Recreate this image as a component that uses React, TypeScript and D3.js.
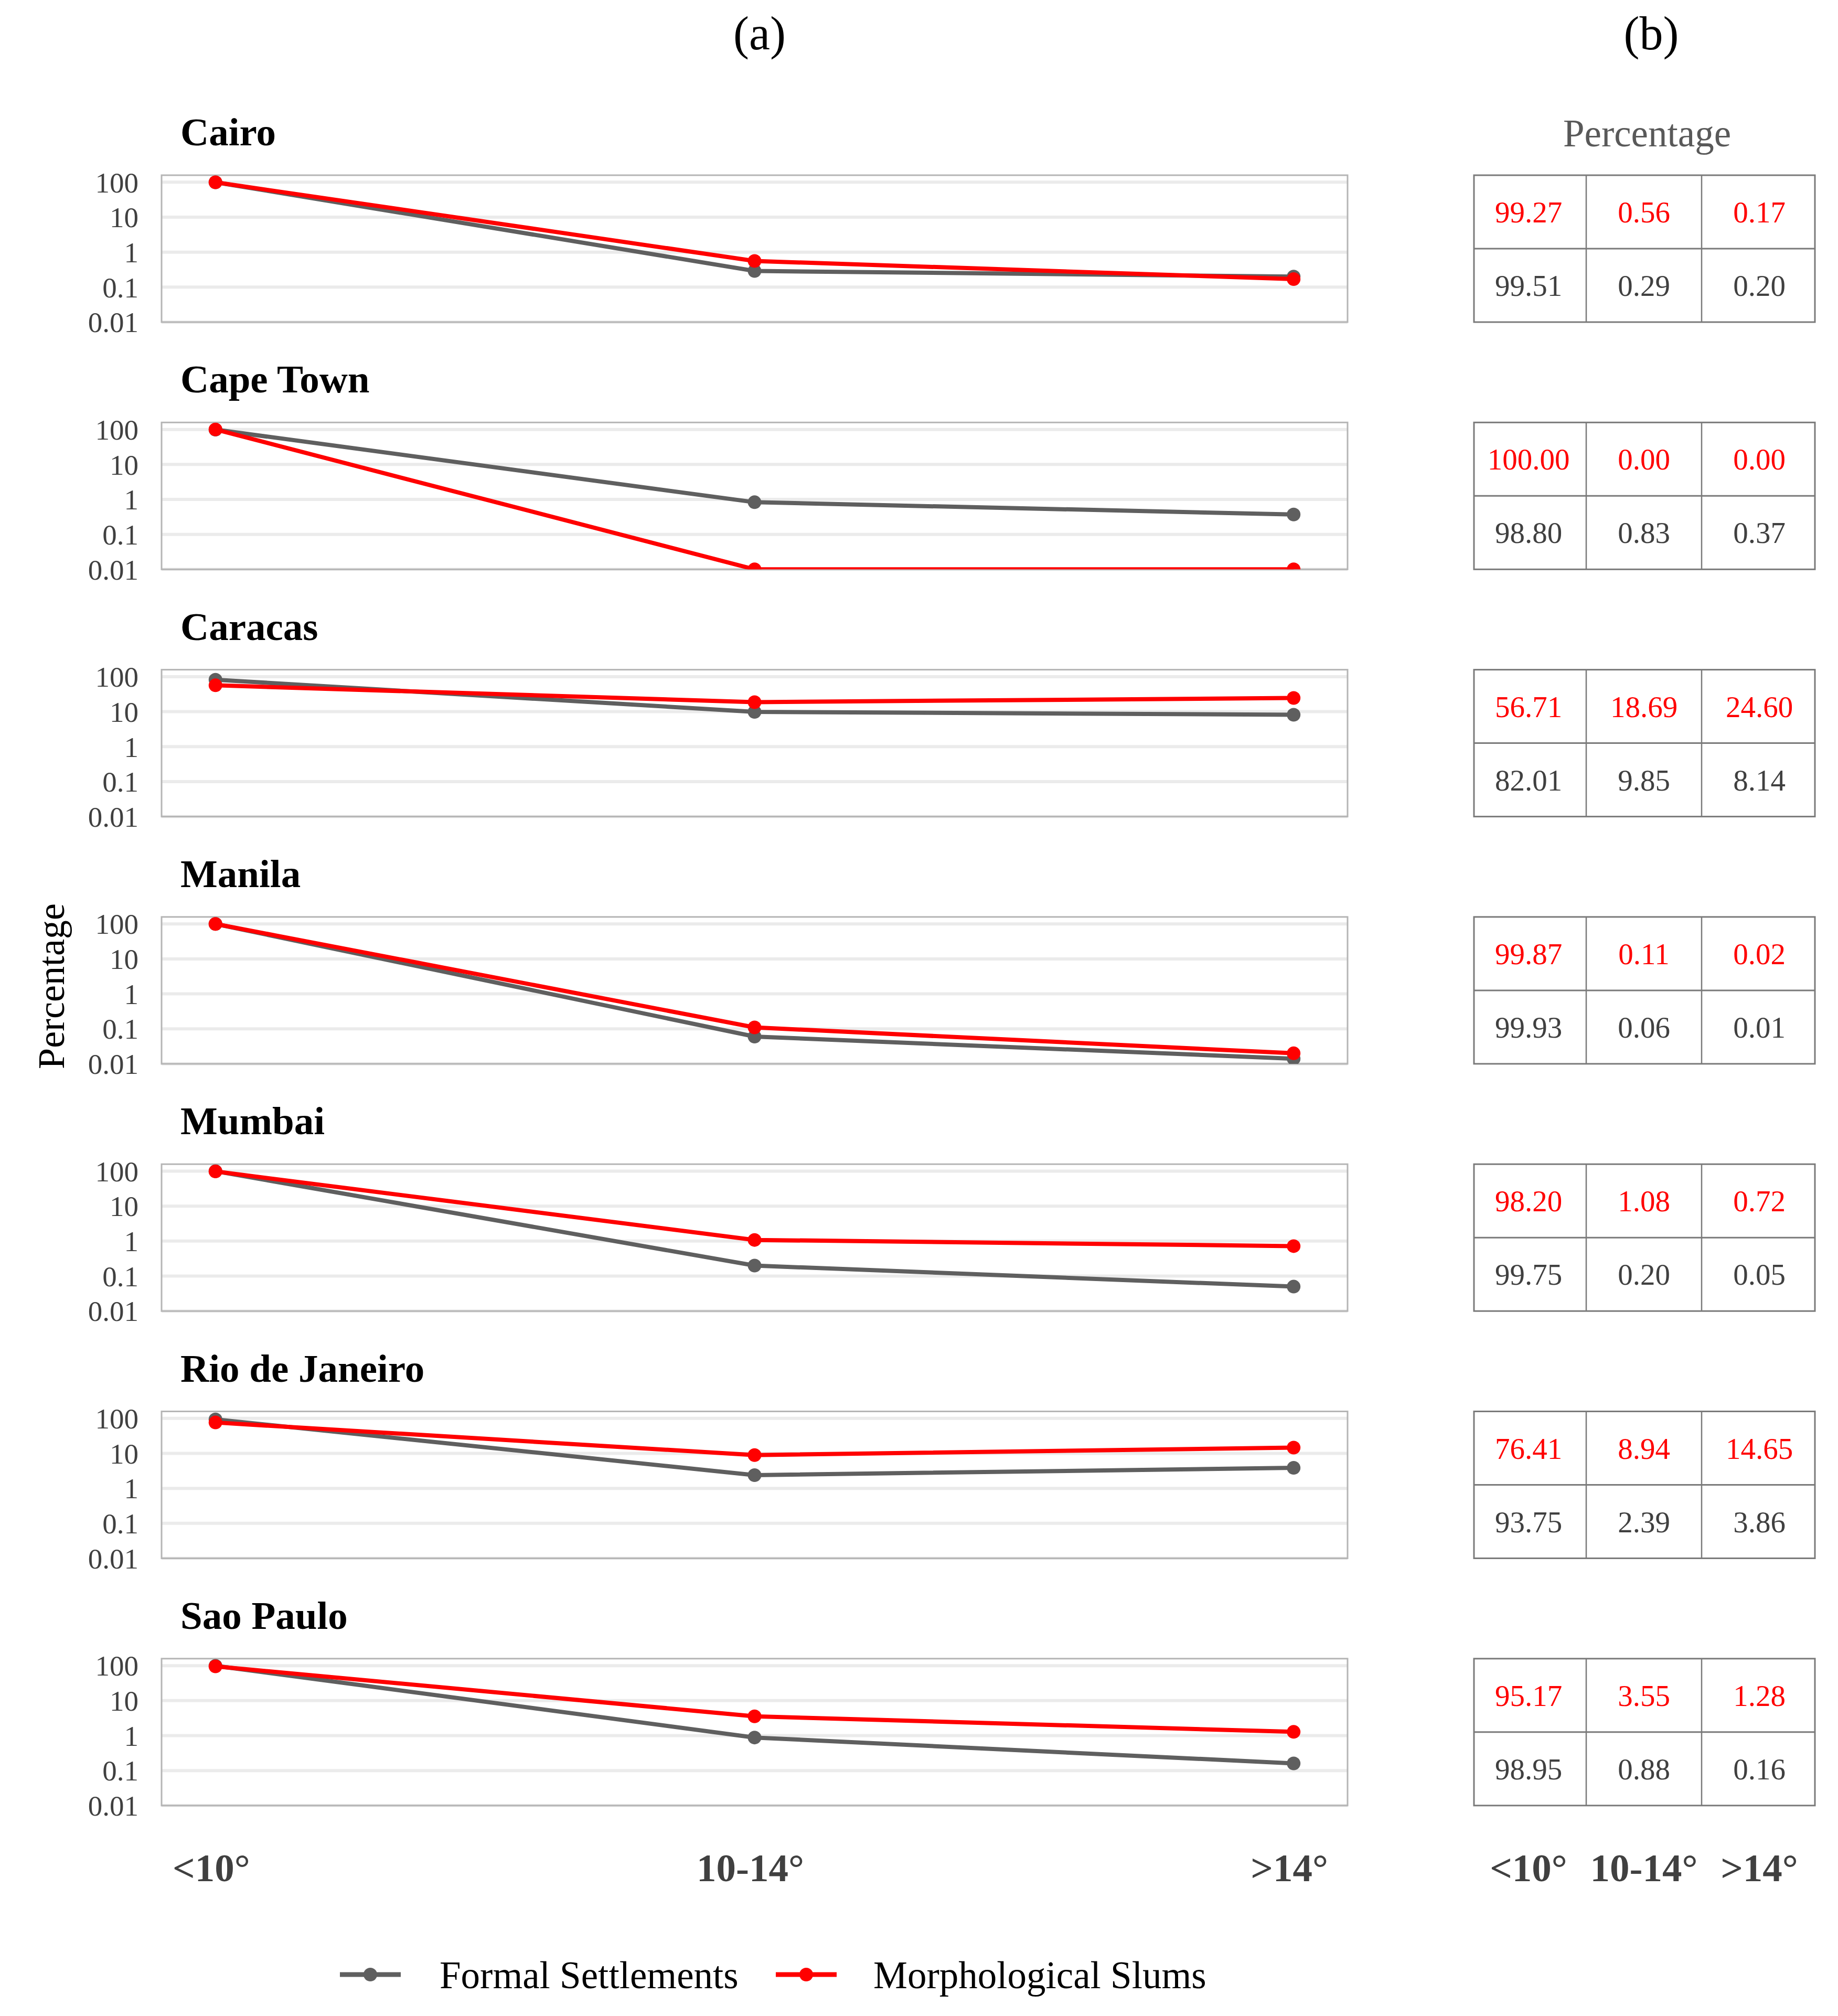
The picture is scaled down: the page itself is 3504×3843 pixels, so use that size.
import React from 'react';
import * as d3 from 'd3';

const cities = ['Cairo', 'Cape Town', 'Caracas', 'Manila', 'Mumbai', 'Rio de Janeiro', 'Sao Paulo'];
const slopeClasses = ['<10°', '10-14°', '>14°'];

// percentages per city, slope classes in order
const formalSettlements = [
    [99.51, 0.29, 0.20],
    [98.80, 0.83, 0.37],
    [82.01, 9.85, 8.14],
    [99.93, 0.06, 0.014],
    [99.75, 0.20, 0.05],
    [93.75, 2.39, 3.86],
    [98.95, 0.88, 0.16],
];
const morphologicalSlums = [
    [99.27, 0.56, 0.17],
    [100.00, 0.00, 0.00],
    [56.71, 18.69, 24.60],
    [99.87, 0.11, 0.02],
    [98.20, 1.08, 0.72],
    [76.41, 8.94, 14.65],
    [95.17, 3.55, 1.28],
];
const yTicks = [100, 10, 1, 0.1, 0.01];
const yTickLabels = ['100', '10', '1', '0.1', '0.01'];

const FONT = '"Liberation Serif", "Times New Roman", serif';
const GRAY = '#5f5f5f';
const RED = '#ff0000';

const width = 3504;
const height = 3843;
const plotLeft = 308;
const plotRight = 2569;
const firstTop = 334;
const panelStep = 471.3;
const panelHeight = 280;
const tableLeft = 2810;
const tableRight = 3460;

const App: React.FC = () => {
    const x = d3.scalePoint<string>().domain(slopeClasses).range([plotLeft, plotRight]).padding(0.1);
    const col = d3.scaleBand<string>().domain(slopeClasses).range([tableLeft - 6, tableRight + 4]);
    const minY = 0.01;

    const series = [
        { name: 'Formal Settlements', color: GRAY, values: formalSettlements },
        { name: 'Morphological Slums', color: RED, values: morphologicalSlums },
    ];

    return (
        <svg width={width} height={height} style={{ position: 'absolute', left: 0, top: 0, background: '#fff' }}
            fontFamily={FONT}>
            <text x={1448} y={94} fontSize={90} textAnchor="middle" fill="#000">(a)</text>
            <text x={3148} y={94} fontSize={90} textAnchor="middle" fill="#000">(b)</text>
            <text x={3140} y={279} fontSize={73} textAnchor="middle" fill="#595959">Percentage</text>
            <text transform={`translate(122, 1880) rotate(-90)`} fontSize={72} textAnchor="middle" fill="#000">Percentage</text>

            {cities.map((city, i) => {
                const top = firstTop + i * panelStep;
                const bottom = top + panelHeight;
                const y = d3.scaleLog().domain([minY, Math.pow(10, 2.2)]).range([bottom, top]);
                const line = d3.line<number>()
                    .x((_, j) => x(slopeClasses[j]) as number)
                    .y(v => y(Math.max(v, minY)));
                const clipId = `clip-${i}`;
                return (
                    <g key={city}>
                        <defs>
                            <clipPath id={clipId}>
                                <rect x={plotLeft} y={top} width={plotRight - plotLeft} height={panelHeight} />
                            </clipPath>
                        </defs>
                        <text x={344} y={top - 57} fontSize={75} fontWeight="bold" fill="#000">{city}</text>
                        {yTicks.map((t, k) => (
                            <g key={t}>
                                <line x1={plotLeft} x2={plotRight} y1={y(t)} y2={y(t)} stroke="#ebebeb" strokeWidth={6} />
                                <text x={264} y={y(t)} dy="0.35em" fontSize={55} textAnchor="end" fill="#404040">{yTickLabels[k]}</text>
                            </g>
                        ))}
                        <rect x={plotLeft} y={top} width={plotRight - plotLeft} height={panelHeight}
                            fill="none" stroke="#b5b5b5" strokeWidth={3} />
                        <g clipPath={`url(#${clipId})`}>
                            {series.map(s => (
                                <g key={s.name}>
                                    <path d={line(s.values[i]) || ''} fill="none" stroke={s.color} strokeWidth={8} />
                                    {s.values[i].map((v, j) => (
                                        <circle key={j} cx={x(slopeClasses[j])} cy={y(Math.max(v, minY))} r={13} fill={s.color} />
                                    ))}
                                </g>
                            ))}
                        </g>

                        {/* table (b) */}
                        {[morphologicalSlums, formalSettlements].map((vals, r) => {
                            const rowTop = top + r * (panelHeight / 2);
                            return slopeClasses.map((c, j) => (
                                <text key={`${r}-${c}`} x={(col(c) as number) + col.bandwidth() / 2}
                                    y={rowTop + panelHeight / 4 + 20} fontSize={57} textAnchor="middle"
                                    fill={r === 0 ? RED : '#404040'}>
                                    {vals[i][j].toFixed(2)}
                                </text>
                            ));
                        })}
                        <line x1={tableLeft} x2={tableRight} y1={top + panelHeight / 2} y2={top + panelHeight / 2}
                            stroke="#7a7a7a" strokeWidth={3} />
                        {slopeClasses.slice(1).map(c => (
                            <line key={c} x1={col(c)} x2={col(c)} y1={top} y2={bottom} stroke="#7a7a7a" strokeWidth={2.5} />
                        ))}
                        <rect x={tableLeft} y={top} width={tableRight - tableLeft} height={panelHeight}
                            fill="none" stroke="#7a7a7a" strokeWidth={3} />
                    </g>
                );
            })}

            {slopeClasses.map(c => (
                <g key={c}>
                    <text x={(x(c) as number) - 8} y={3586} fontSize={75} fontWeight="bold" textAnchor="middle" fill="#404040">{c}</text>
                    <text x={(col(c) as number) + col.bandwidth() / 2} y={3586} fontSize={75} fontWeight="bold" textAnchor="middle" fill="#404040">{c}</text>
                </g>
            ))}

            {/* legend */}
            {series.map((s, k) => {
                const lx = k === 0 ? 648 : 1479;
                const tx = k === 0 ? 838 : 1665;
                return (
                    <g key={s.name}>
                        <line x1={lx} x2={lx + 116} y1={3764} y2={3764} stroke={s.color} strokeWidth={9} />
                        <circle cx={lx + 58} cy={3764} r={13} fill={s.color} />
                        <text x={tx} y={3790} fontSize={73} fill="#000">{s.name}</text>
                    </g>
                );
            })}
        </svg>
    );
};

export default App;
